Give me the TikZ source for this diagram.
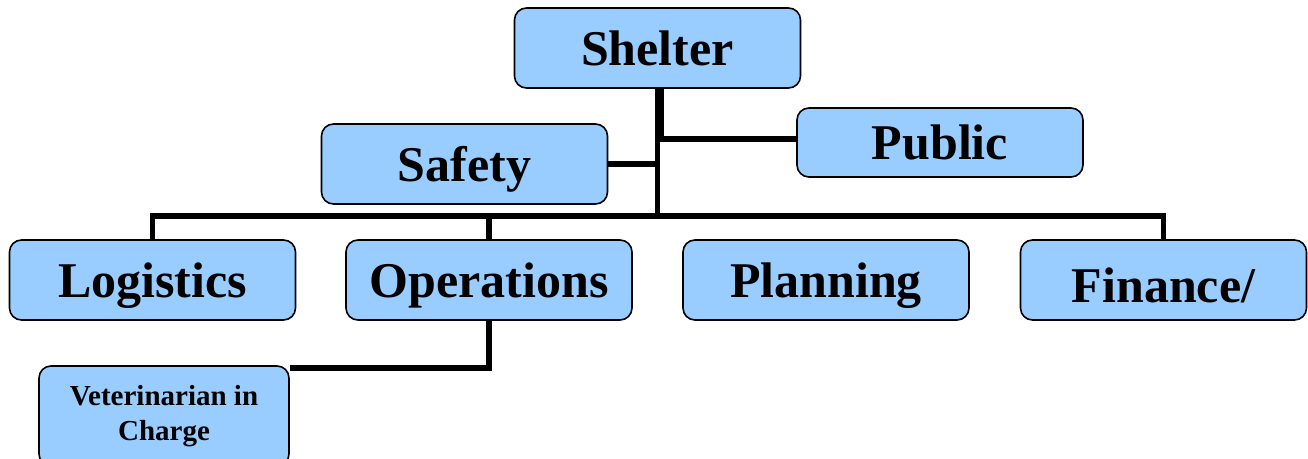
\documentclass[tikz,border=0pt]{standalone}
\usepackage{fontspec}
\setmainfont{Liberation Serif}
\definecolor{boxblue}{RGB}{153,204,255}
\begin{document}
\begin{tikzpicture}[x=1pt,y=-1pt,
  box/.style={draw=black, line width=1.6pt, fill=boxblue, rounded corners=12pt,
    minimum width=286pt, minimum height=80pt, inner sep=0pt,
    font=\bfseries\fontsize{50}{60}\selectfont, text height=36pt, text depth=2pt},
  smallbox/.style={draw=black, line width=1.6pt, fill=boxblue, rounded corners=12pt,
    minimum width=250pt, minimum height=100pt, inner sep=0pt, align=center,
    font=\bfseries\fontsize{29}{35}\selectfont},
  conn/.style={line width=5.5pt, line join=miter}]
\useasboundingbox (0,0) rectangle (1308,458);
\coordinate (busy) at (0,216);
\node[box] (shelter) at (657.5,48) {Shelter};
\node[box] (safety) at (464.5,164) {Safety};
\node[box, minimum height=69pt] (public) at (940,142.5) {Public};
\node[box] (logistics) at (152.5,280) {Logistics};
\node[box] (operations) at (489,280) {Operations};
\node[box] (planning) at (826,280) {Planning};
\node[box, text height=46pt] (finance) at (1163.5,280) {Finance/};
\node[smallbox] (vet) at (164,416) {Veterinarian in\\Charge};
\draw[conn] (shelter.south) -- (shelter.south |- busy);
\draw[conn] ([yshift=3.5pt]public.west) -| ([xshift=4pt]shelter.south);
\draw[conn] (safety.east) -- (safety.east -| shelter.south);
\draw[conn] (logistics.north) -- (logistics.north |- busy) -- (finance.north |- busy) -- (finance.north);
\draw[conn] (operations.north) -- (operations.north |- busy);
\draw[conn] (operations.south) |- ([yshift=-3pt]vet.north east);
\end{tikzpicture}
\end{document}
